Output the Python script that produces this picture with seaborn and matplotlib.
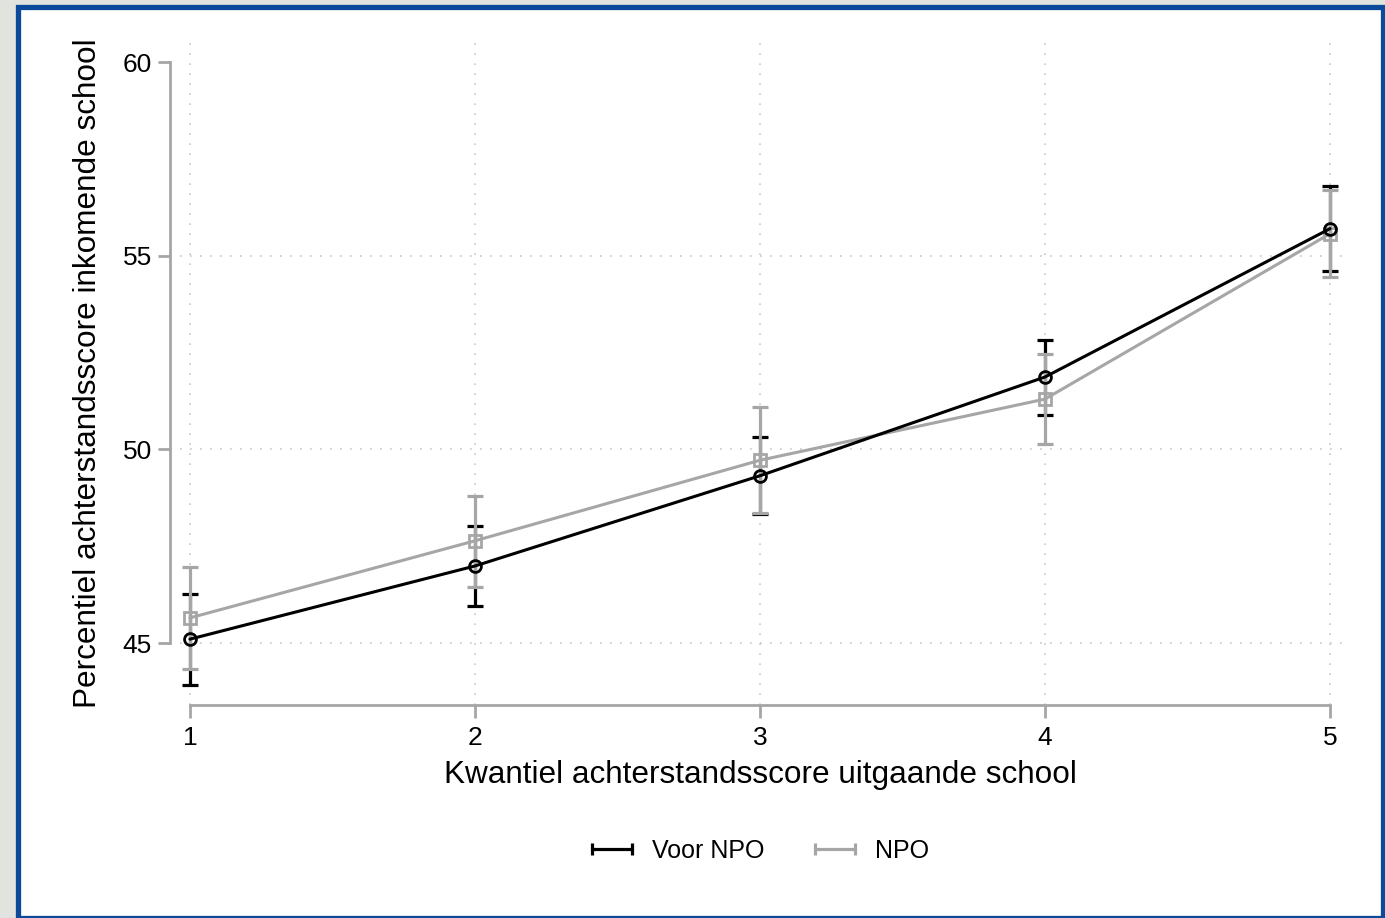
#!/usr/bin/env python3
"""Percentiel achterstandsscore inkomende school per kwantiel, voor NPO vs NPO."""

import numpy as np
import pandas as pd
import matplotlib.pyplot as plt
import seaborn as sns
from matplotlib.lines import Line2D
from matplotlib.patches import Rectangle

# data
kwantiel = [1, 2, 3, 4, 5]
voor_mean = [45.10, 46.99, 49.32, 51.87, 55.70]
voor_lo = [43.92, 45.96, 48.33, 50.89, 54.61]
voor_hi = [46.27, 48.02, 50.31, 52.83, 56.81]
npo_mean = [45.65, 47.64, 49.72, 51.30, 55.57]
npo_lo = [44.33, 46.45, 48.36, 50.14, 54.46]
npo_hi = [46.96, 48.80, 51.09, 52.47, 56.71]
series = ["Voor NPO", "NPO"]
y_ticks = [45, 50, 55, 60]

BLACK = "#000000"
GRAY = "#a6a6a6"
SPINE = "#a6a6a6"

sns.set_style("white")
plt.rcParams['font.family'] = ['Liberation Sans', 'DejaVu Sans']
plt.rcParams['text.color'] = 'black'
plt.rcParams['axes.labelcolor'] = 'black'
plt.rcParams['xtick.color'] = 'black'
plt.rcParams['ytick.color'] = 'black'

df = pd.DataFrame({
    "x": kwantiel * 2,
    "y": voor_mean + npo_mean,
    "lo": voor_lo + npo_lo,
    "hi": voor_hi + npo_hi,
    "groep": [series[0]] * 5 + [series[1]] * 5,
})

fig = plt.figure(figsize=(13.85, 9.18), dpi=100)
fig.patch.set_facecolor("#e0e3de")
frame = Rectangle((17.5 / 1385, 0.5 / 918), (1383 - 17.5) / 1385, (911.5 - 0.5) / 918,
                  transform=fig.transFigure, facecolor="white",
                  edgecolor="#0b4a9a", linewidth=3.8, zorder=-10)
fig.patches.append(frame)

ax = fig.add_axes([170 / 1385, 1 - 705 / 918, (1350 - 170) / 1385, (705 - 42) / 918])
ax.set_facecolor("none")

# gridlines (dotted)
for t in y_ticks[:-1]:
    ax.axhline(t, color="#c8c8c8", lw=1.2, ls=(0, (1, 5)), zorder=0)
for t in kwantiel:
    ax.axvline(t, color="#c8c8c8", lw=1.2, ls=(0, (1, 5)), zorder=0)

# confidence intervals
colors = {series[0]: BLACK, series[1]: GRAY}
for name, z in [(series[0], 2), (series[1], 3)]:
    sub = df[df["groep"] == name]
    err = np.vstack([sub["y"] - sub["lo"], sub["hi"] - sub["y"]])
    ax.errorbar(sub["x"], sub["y"], yerr=err, fmt="none", ecolor=colors[name],
                elinewidth=2.3, capsize=6, capthick=2.3, zorder=z)

# lines + markers
sns.lineplot(data=df[df["groep"] == series[1]], x="x", y="y", color=GRAY, lw=2.2,
             marker="s", markersize=8.5, markerfacecolor="none", markeredgecolor=GRAY,
             markeredgewidth=2, ax=ax, zorder=4, legend=False)
sns.lineplot(data=df[df["groep"] == series[0]], x="x", y="y", color=BLACK, lw=2.2,
             marker="o", markersize=8.5, markerfacecolor="none", markeredgecolor=BLACK,
             markeredgewidth=2, ax=ax, zorder=5, legend=False)

ax.set_xlim(0.93, 5.07)
ax.set_ylim(43.4, 60.52)
ax.set_xticks(kwantiel)
ax.set_yticks(y_ticks)

for s in ["top", "right"]:
    ax.spines[s].set_visible(False)
ax.spines["left"].set_bounds(45, 60)
ax.spines["bottom"].set_bounds(1, 5)
for s in ["left", "bottom"]:
    ax.spines[s].set_color(SPINE)
    ax.spines[s].set_linewidth(2)
ax.tick_params(axis="both", bottom=True, left=True, direction="out", length=9,
               width=2, color=SPINE, labelcolor="black", labelsize=19)
ax.tick_params(axis="y", pad=4)
ax.tick_params(axis="x", pad=6)

ax.set_xlabel("Kwantiel achterstandsscore uitgaande school", fontsize=22.7, labelpad=7)
ax.set_ylabel("Percentiel achterstandsscore inkomende school", fontsize=22.7, labelpad=14)

handles = [Line2D([], [], color=BLACK, lw=2.3, marker="|", markersize=9, markeredgewidth=2.3),
           Line2D([], [], color=GRAY, lw=2.3, marker="|", markersize=9, markeredgewidth=2.3)]
fig.legend(handles, series, loc="center", bbox_to_anchor=(757 / 1385, 1 - 851 / 918),
           ncol=2, frameon=False, fontsize=18, numpoints=2, handlelength=2.2,
           handletextpad=0.5, columnspacing=1.7)

plt.savefig("out.png", dpi=100)
plt.close()
